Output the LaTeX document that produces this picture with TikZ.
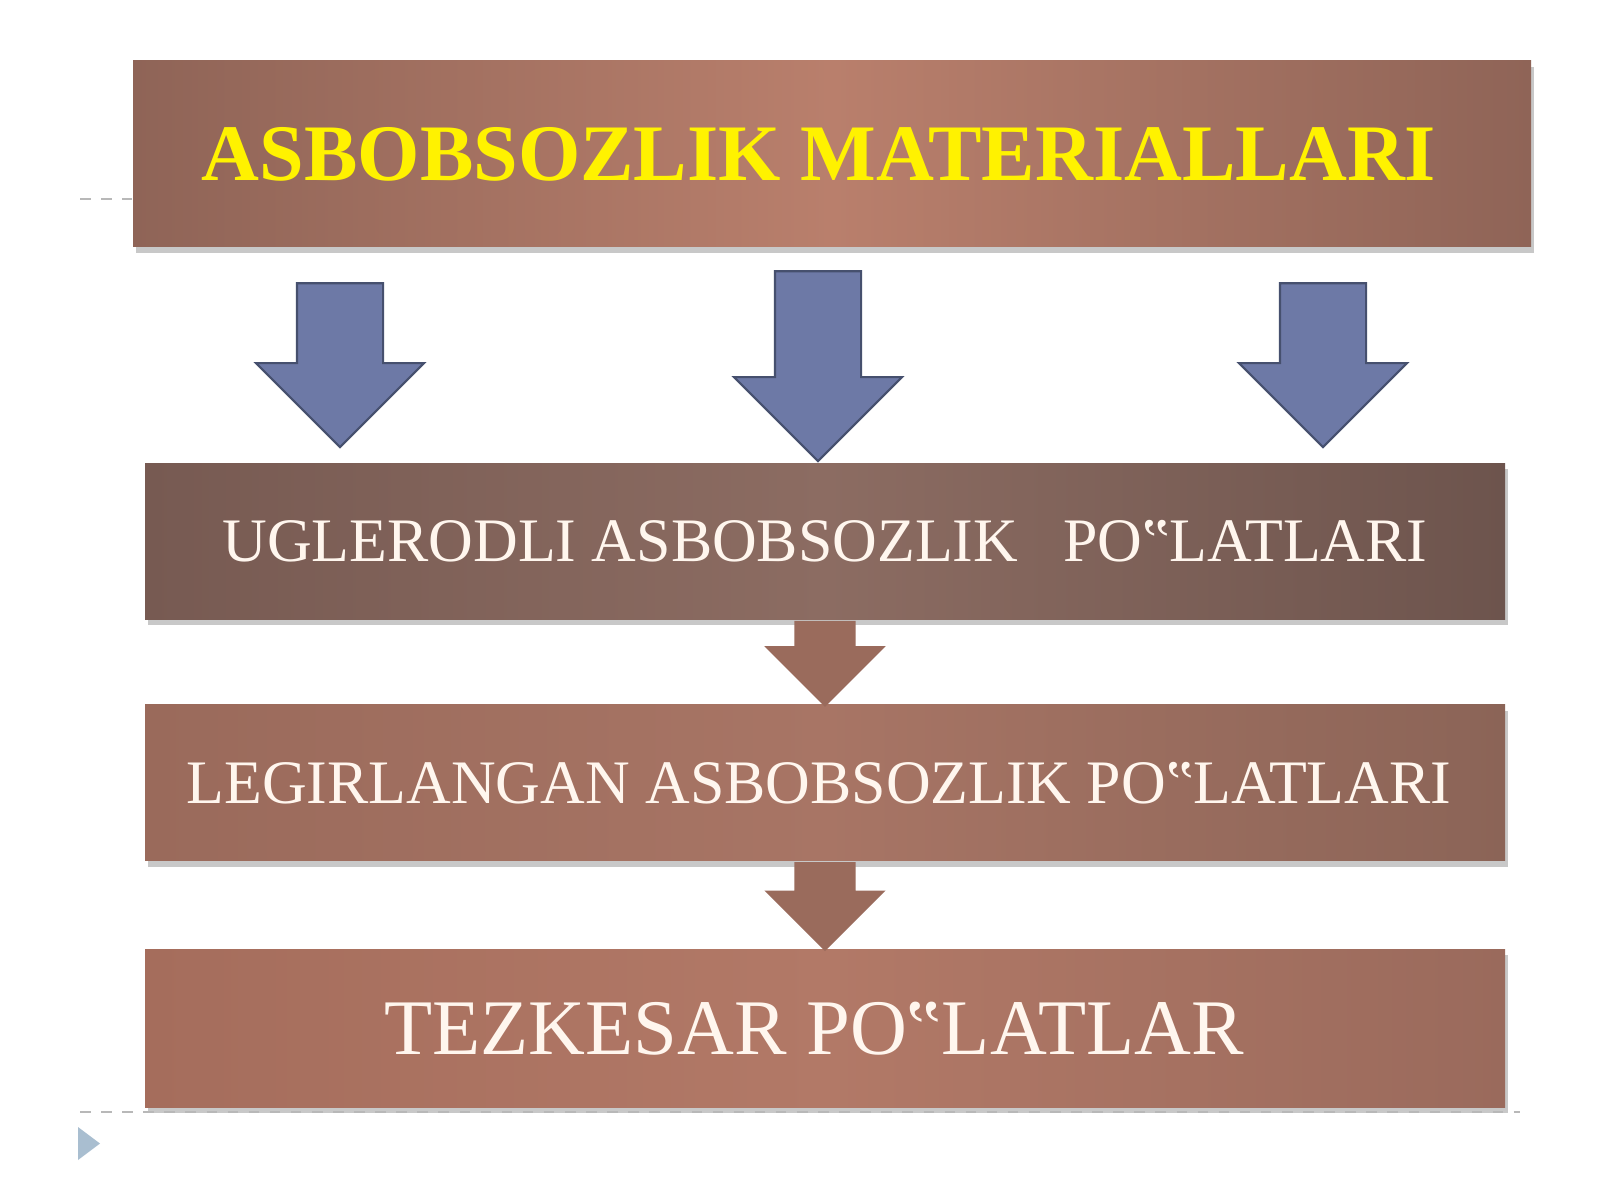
\documentclass[tikz,border=0pt]{standalone}
\usepackage{fontspec}
\setmainfont{Liberation Serif}
\usetikzlibrary{positioning,shapes.arrows,shadows}
\tikzset{>=latex}
\definecolor{titleyellow}{HTML}{FFF200}
\definecolor{cream}{HTML}{FFF6EE}
\definecolor{arrowblue}{HTML}{6D79A6}
\definecolor{arrowedge}{HTML}{46506E}
\definecolor{arrowbrown}{HTML}{9A6B5C}
\definecolor{guidegray}{HTML}{B8B8B8}
\definecolor{markerblue}{HTML}{A9BED0}
\definecolor{titleside}{HTML}{8F6457}
\definecolor{titlemid}{HTML}{B97F6C}
\definecolor{carbonside}{HTML}{775A52}
\definecolor{carbonmid}{HTML}{8C6C62}
\definecolor{carbonedge}{HTML}{6D544D}
\definecolor{alloyside}{HTML}{9A6A5B}
\definecolor{alloymid}{HTML}{A87565}
\definecolor{alloyedge}{HTML}{8B6457}
\definecolor{rapidside}{HTML}{A56D5C}
\definecolor{rapidmid}{HTML}{B27967}
\definecolor{rapidedge}{HTML}{9A6A5C}
\def\bigtext{\fontsize{22.8}{26}\selectfont}
\def\midtext{\fontsize{17.6}{20}\selectfont}

\tikzset{
  layerbox/.style={rectangle, minimum width=13.6cm, minimum height=1.56cm, inner sep=0pt,
    text=cream, font=\midtext,
    drop shadow={shadow xshift=0.03cm, shadow yshift=-0.06cm, opacity=0.3, fill=black!70}},
  bluearrow/.style={single arrow, rotate=-90, minimum width=1.66cm, inner xsep=0pt, inner ysep=0.42cm,
    single arrow head extend=0.41cm, single arrow tip angle=90,
    fill=arrowblue, draw=arrowedge, line width=0.6pt},
  brownarrow/.style={single arrow, rotate=-90, minimum width=1.2cm, inner xsep=0pt, inner ysep=0.3cm,
    single arrow head extend=0.3cm, single arrow tip angle=90, fill=arrowbrown},
  guideline/.style={draw=guidegray, dashed, line width=0.5pt}
}

\begin{document}
\begin{tikzpicture}
  \useasboundingbox[fill=white] (0,0) rectangle (16,12);

  \node[layerbox, minimum width=13.98cm, minimum height=1.86cm,
    left color=titleside, right color=titleside, middle color=titlemid,
    text=titleyellow, font=\bfseries\bigtext] (title) at (8.32,10.46) {ASBOBSOZLIK MATERIALLARI\hspace*{0.26cm}};
  \node[layerbox, below=2.15cm of title, xshift=-0.07cm,
    left color=carbonside, right color=carbonedge, middle color=carbonmid]
    (carbon) {UGLERODLI ASBOBSOZLIK\hspace{0.45cm}PO‟LATLARI};
  \node[layerbox, below=0.84cm of carbon,
    left color=alloyside, right color=alloyedge, middle color=alloymid]
    (alloy) {LEGIRLANGAN ASBOBSOZLIK PO‟LATLARI\hspace*{0.12cm}};
  \node[layerbox, below=0.87cm of alloy, minimum height=1.58cm, font=\fontsize{22.4}{26}\selectfont,
    left color=rapidside, right color=rapidedge, middle color=rapidmid]
    (rapid) {TEZKESAR PO‟LATLAR\hspace*{0.22cm}};

  \node[bluearrow, minimum height=1.64cm, anchor=tip] (arrleft) at ([xshift=-4.85cm, yshift=0.14cm]carbon.north) {};
  \node[bluearrow, minimum height=1.90cm, anchor=tip] (arrmid) at ([xshift=-0.07cm]carbon.north) {};
  \node[bluearrow, minimum height=1.64cm, anchor=tip] (arrright) at ([xshift=4.98cm, yshift=0.14cm]carbon.north) {};

  \node[brownarrow, minimum height=0.86cm, anchor=tail] (step1) at (carbon.south) {};
  \node[brownarrow, minimum height=0.89cm, anchor=tail] (step2) at (alloy.south) {};

  \coordinate (gtop) at (0.8,10.01);
  \coordinate (gbot) at (0.8,0.88);
  \coordinate (gend) at (15.2,0.88);
  \path[guideline] (gtop) -- (gtop -| title.west);
  \path[guideline] (gbot) -- (gend);
  \fill[markerblue] (0.78,0.73) -- (0.78,0.40) -- (1.00,0.565) -- cycle;
\end{tikzpicture}
\end{document}
